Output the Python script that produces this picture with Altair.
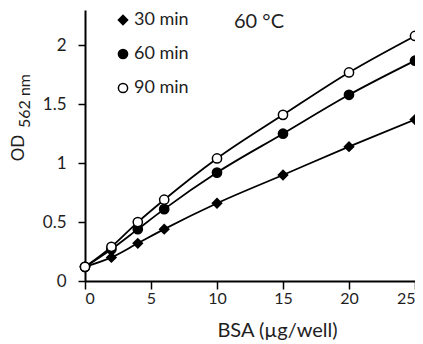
import altair as alt
import pandas as pd

bsa = [0, 2, 4, 6, 10, 15, 20, 25]
od_30 = [0.12, 0.20, 0.32, 0.44, 0.66, 0.90, 1.14, 1.37]
od_60 = [0.12, 0.27, 0.44, 0.61, 0.92, 1.25, 1.58, 1.87]
od_90 = [0.12, 0.29, 0.50, 0.69, 1.04, 1.41, 1.77, 2.08]
series = ["30 min", "60 min", "90 min"]

rows = []
for name, vals in zip(series, [od_30, od_60, od_90]):
    for x, v in zip(bsa, vals):
        rows.append({"BSA": x, "OD": v, "time": name})
df = pd.DataFrame(rows)

FONT = "Lato"
TXT = "#1e1e1e"

xenc = alt.X("BSA:Q", scale=alt.Scale(domain=[0, 25], nice=False),
             axis=alt.Axis(values=[0, 5, 10, 15, 20, 25], title="BSA (µg/well)",
                           grid=False, domainColor="black", domainWidth=2,
                           tickColor="black", tickWidth=1.5, tickSize=8,
                           labelPadding=1, labelFontSize=16, labelFont=FONT,
                           labelColor=TXT, titleFont=FONT, titleFontSize=20,
                           titleFontWeight="normal", titleColor=TXT,
                           titleX=192, titleY=55, titleBaseline="alphabetic"))
yenc = alt.Y("OD:Q", scale=alt.Scale(domain=[0, 2.3], nice=False),
             axis=alt.Axis(values=[0, 0.5, 1, 1.5, 2], format="~g", title=None,
                           grid=False, domainColor="black", domainWidth=2,
                           tickColor="black", tickWidth=1.5, tickSize=7,
                           labelPadding=12, labelFontSize=17, labelFont=FONT,
                           labelColor=TXT))

lines = alt.Chart(df).mark_line(color="black", strokeWidth=1.8,
                                interpolate="monotone").encode(
    x=xenc, y=yenc, detail="time:N")

points = alt.Chart(df).mark_point(filled=False, strokeWidth=1.5,
                                  size=85, opacity=1).encode(
    x="BSA:Q", y="OD:Q",
    shape=alt.Shape("time:N", scale=alt.Scale(domain=series,
                    range=["diamond", "circle", "circle"]), title=None),
    fill=alt.Fill("time:N", scale=alt.Scale(domain=series,
                  range=["black", "black", "white"]), title=None),
    stroke=alt.Stroke("time:N", scale=alt.Scale(domain=series,
                      range=["black", "black", "black"]), title=None),
)

temp = alt.Chart(pd.DataFrame({"t": ["60 °C"]})).mark_text(
    font=FONT, fontSize=20, color=TXT, align="center", baseline="alphabetic"
).encode(x=alt.value(174), y=alt.value(18), text="t:N")

od = alt.Chart(pd.DataFrame({"t": ["OD"]})).mark_text(
    font=FONT, fontSize=17, color=TXT, angle=270, align="center", baseline="middle"
).encode(x=alt.value(-66), y=alt.value(138), text="t:N")

sub = alt.Chart(pd.DataFrame({"t": ["562 nm"]})).mark_text(
    font=FONT, fontSize=16, color=TXT, angle=270, align="center", baseline="middle"
).encode(x=alt.value(-60), y=alt.value(91), text="t:N")

chart = alt.layer(lines, points, temp, od, sub).properties(
    width=330, height=271,
    autosize=alt.AutoSizeParams(type="none"),
    padding={"left": 77, "top": 2, "right": 0, "bottom": 60},
).configure_view(stroke=None).configure_legend(
    orient="none", legendX=29, legendY=1, padding=0, symbolOffset=0,
    symbolSize=85, symbolStrokeWidth=1.5,
    labelFont=FONT, labelFontSize=18, labelColor=TXT, labelOffset=2,
    rowPadding=16,
)

chart.save("out.html", embed_options={"renderer": "svg", "actions": False})
